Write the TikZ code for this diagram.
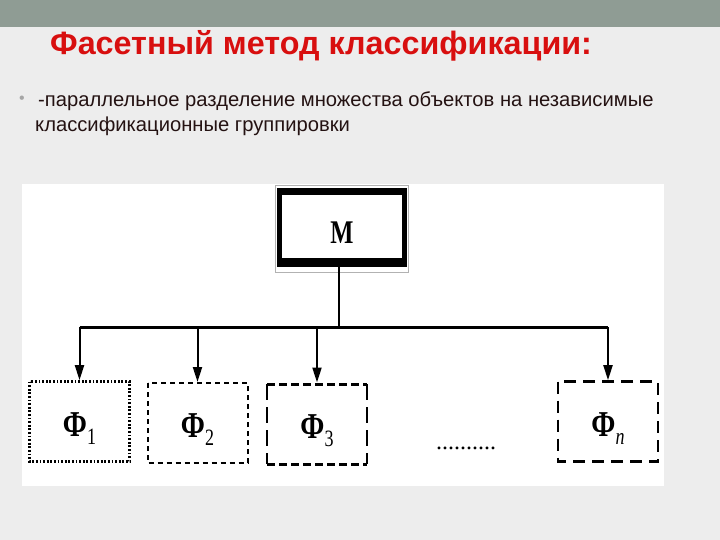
\documentclass[tikz,border=0pt]{standalone}
\usepackage{fontspec}
\setmainfont{Liberation Sans}
\newfontfamily\serifcyr{Liberation Serif}
\usetikzlibrary{arrows.meta}
\definecolor{bg}{HTML}{EDEDED}
\definecolor{topbar}{HTML}{8F9C94}
\definecolor{titlered}{HTML}{D80F0F}
\definecolor{bodytxt}{HTML}{241212}
\tikzset{
  facet/.style={minimum width=100pt, minimum height=80pt, inner sep=0pt, outer sep=0pt},
  flab/.style={inner sep=0pt, yshift=-3pt, font=\serifcyr\bfseries\fontsize{28}{28}\selectfont},
  conn/.style={line width=2pt, -{Triangle[length=15pt,width=9pt]}},
  bodyline/.style={anchor=base west, inner sep=0pt, text=bodytxt,
    font=\fontsize{20.2}{20}\selectfont},
}
\newcommand{\flabel}[1]{\scalebox{1}[1.3]{Ф\smash{\raisebox{-0.22em}{\fontsize{18}{18}\selectfont\mdseries #1}}}}
\begin{document}
\begin{tikzpicture}[x=1pt,y=-1pt]
\useasboundingbox (0,0) rectangle (720,540);
\fill[bg] (0,0) rectangle (720,540);
\fill[topbar] (0,0) rectangle (720,27);
\node[anchor=base west, inner sep=0pt, text=titlered,
  font=\bfseries\fontsize{32.3}{32}\selectfont] (title) at (50,55) {Фасетный метод классификации:};
\node[text=gray!70, inner sep=0pt, font=\fontsize{16}{16}\selectfont] (bullet) at (22,100) {•};
\node[bodyline] (l1) at (38,107) {-параллельное разделение множества объектов на независимые};
\node[bodyline] (l2) at (35,132) {классификационные группировки};
% panel
\fill[white] (22,184) rectangle (664,486);
% M box
\node[draw=gray!60, line width=0.8pt, minimum width=133pt, minimum height=87pt, inner sep=0pt] (Mouter) at (341.5,228.5) {};
\node[draw=black, line width=5pt, minimum width=125pt, minimum height=71pt, inner sep=0pt, outer sep=0pt] (M) at (342,227) {};
\draw[line width=7pt] ([xshift=-2.5pt]M.north west) -- ([xshift=2.5pt]M.north east);
\draw[line width=9pt] ([xshift=-2.5pt]M.south west) -- ([xshift=2.5pt]M.south east);
\node[inner sep=0pt, yshift=-6pt, font=\serifcyr\bfseries\fontsize{24.5}{24}\selectfont] (Mlab) at (M.center) {\scalebox{1}[1.35]{М}};
% facets
\node[facet] (f1) at (79.5,421.5) {};
\node[facet] (f2) at (197.5,423) {};
\node[facet] (f3) at (317,424) {};
\node[facet] (fn) at (608,421.5) {};
\node[flab] (f1lab) at (f1.center) {\flabel{1}};
\node[flab] (f2lab) at (f2.center) {\flabel{2}};
\node[flab] (f3lab) at (f3.center) {\flabel{3}};
\node[flab] (fnlab) at (fn.center) {\flabel{\itshape n}};
\draw[line width=2.6pt, dash pattern=on 1.8pt off 1.8pt] (f1.north west) rectangle (f1.south east);
\draw[line width=2pt, dash pattern=on 5pt off 4pt] (f2.north west) rectangle (f2.south east);
\draw[line width=3pt, dash pattern=on 8pt off 4pt] (f3.north west) -- (f3.north east);
\draw[line width=3pt, dash pattern=on 8pt off 4pt] (f3.south west) -- (f3.south east);
\draw[line width=2pt, dash pattern=on 16pt off 7pt] (f3.north west) -- (f3.south west);
\draw[line width=2pt, dash pattern=on 16pt off 7pt] (f3.north east) -- (f3.south east);
\draw[line width=2.6pt, dash pattern=on 12pt off 7pt] (fn.north west) rectangle (fn.south east);
\node[inner sep=0pt, font=\serifcyr\fontsize{24}{24}\selectfont] (dots) at (466,448) {..........};
% connectors
\coordinate (bus) at (0,327);
\draw[line width=2pt] ([yshift=-4.5pt]M.south -| 339,0) -- (339,327) coordinate (busM);
\draw[line width=3pt] (f1.north |- bus) -- (fn.north |- bus);
\draw[conn] (f1.north |- bus) -- ([yshift=1.3pt]f1.north);
\draw[conn] (f2.north |- bus) -- ([yshift=1pt]f2.north);
\draw[conn] (f3.north |- bus) -- ([yshift=1.5pt]f3.north);
\draw[conn] (fn.north |- bus) -- ([yshift=1.3pt]fn.north);
\end{tikzpicture}
\end{document}
